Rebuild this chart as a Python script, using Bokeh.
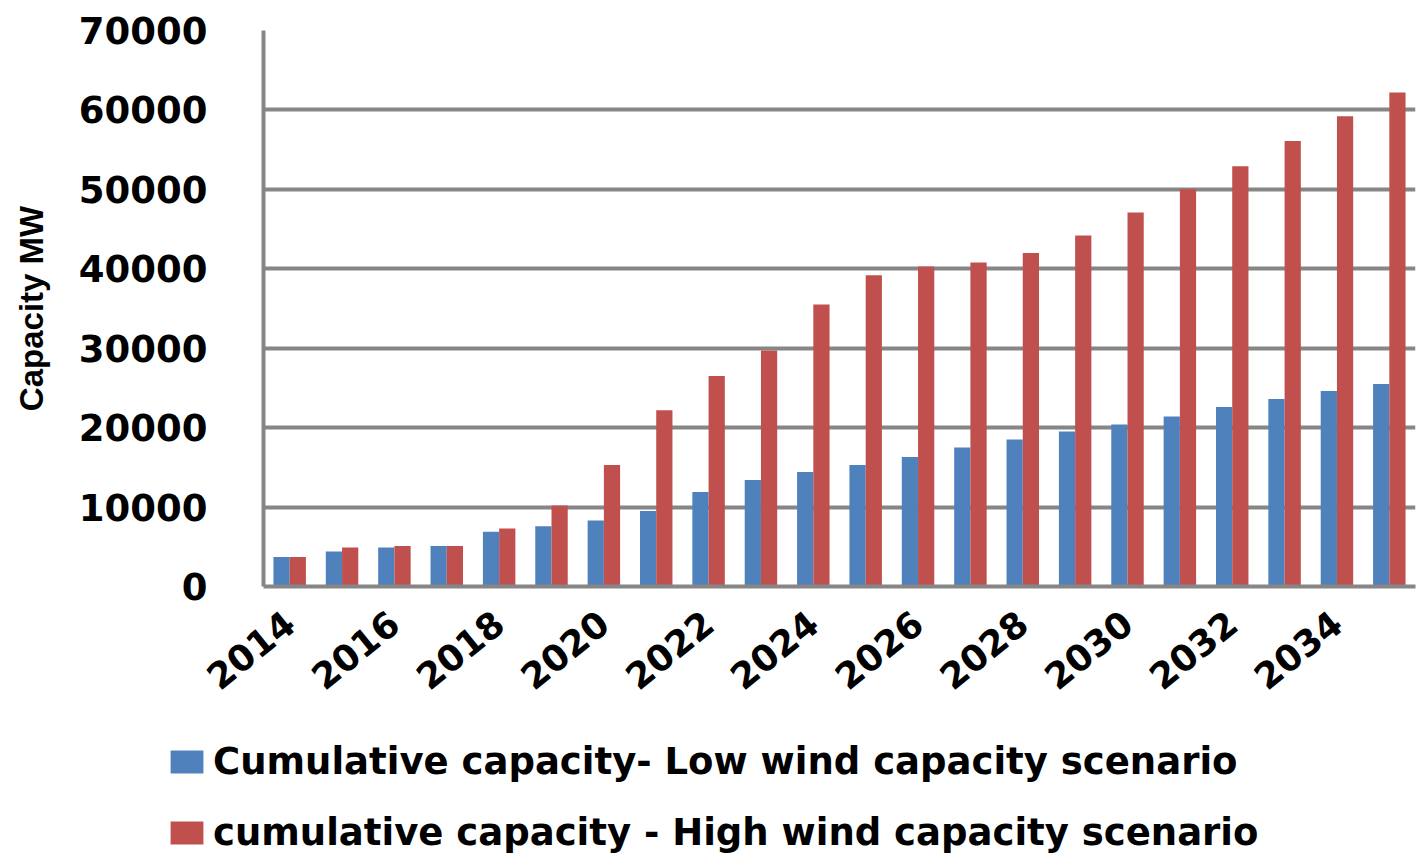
from bokeh.plotting import figure
from bokeh.layouts import column
from bokeh.models import (ColumnDataSource, Range1d, FixedTicker, NumeralTickFormatter,
                          Legend, LegendItem)
from bokeh.transform import dodge
from bokeh.embed import file_html
from bokeh.resources import INLINE

# Cumulative installed wind capacity (MW) per year under two scenarios
years = list(range(2014, 2036))
low_scenario = [3700, 4400, 4900, 5100, 6900, 7600, 8300, 9500, 11900, 13400, 14400,
                15300, 16300, 17500, 18500, 19500, 20400, 21400, 22600, 23600, 24600, 25500]
high_scenario = [3700, 4900, 5100, 5100, 7300, 10200, 15300, 22200, 26500, 29700, 35500,
                 39200, 40300, 40800, 42000, 44200, 47100, 50000, 52900, 56100, 59200, 62200]
year_ticks = list(range(2014, 2036, 2))
value_ticks = list(range(0, 70001, 10000))

low_label = "Cumulative capacity- Low wind capacity scenario"
high_label = "cumulative capacity - High wind capacity scenario"

BLUE = "#4F81BD"
RED = "#C0504D"
GRID = "#868686"
FONT = "DejaVu Sans"

BOTTOM = 128
CHART_H = 586 + BOTTOM
KEY_H = 859 - CHART_H

src = ColumnDataSource(data=dict(year=years, low=low_scenario, high=high_scenario))

p = figure(width=1416, height=CHART_H, output_backend="svg", toolbar_location=None,
           x_range=Range1d(2013.5, 2035.5), y_range=Range1d(0, 70000),
           min_border_left=263, min_border_right=1, min_border_top=30,
           min_border_bottom=BOTTOM)
p.frame_align = False

bar_w = 0.31
p.vbar(x=dodge("year", -bar_w / 2, range=p.x_range), top="low", width=bar_w,
       source=src, fill_color=BLUE, line_color=None)
p.vbar(x=dodge("year", bar_w / 2, range=p.x_range), top="high", width=bar_w,
       source=src, fill_color=RED, line_color=None)

p.outline_line_color = None
p.background_fill_color = "white"
p.border_fill_color = "white"

# grid
p.xgrid.grid_line_color = None
p.ygrid.grid_line_color = GRID
p.ygrid.grid_line_width = 4
p.ygrid.ticker = FixedTicker(ticks=value_ticks)

# y axis
yax = p.yaxis[0]
yax.ticker = FixedTicker(ticks=value_ticks)
yax.formatter = NumeralTickFormatter(format="0")
yax.axis_line_color = GRID
yax.axis_line_width = 4
yax.major_tick_line_color = None
yax.minor_tick_line_color = None
yax.major_label_standoff = 50
yax.major_label_text_font = FONT
yax.major_label_text_font_style = "bold"
yax.major_label_text_font_size = "37px"
yax.major_label_text_color = "black"
yax.axis_label = "Capacity MW"
yax.axis_label_text_font = "Liberation Sans"
yax.axis_label_text_font_style = "bold"
yax.axis_label_text_font_size = "33px"
yax.axis_label_text_color = "black"
yax.axis_label_standoff = 26

# x axis
xax = p.xaxis[0]
xax.ticker = FixedTicker(ticks=year_ticks)
xax.formatter = NumeralTickFormatter(format="0")
xax.axis_line_color = GRID
xax.axis_line_width = 4
xax.major_tick_line_color = None
xax.minor_tick_line_color = None
xax.major_label_orientation = 0.68
xax.major_label_standoff = 26
xax.major_label_text_font = FONT
xax.major_label_text_font_style = "bold"
xax.major_label_text_font_size = "36px"
xax.major_label_text_color = "black"

# key panel underneath the chart; its zero-height bars only supply the swatches
key = figure(width=1416, height=KEY_H, output_backend="svg", toolbar_location=None,
             x_range=p.x_range, y_range=Range1d(0, 1),
             x_axis_type=None, y_axis_type=None,
             min_border_left=0, min_border_right=0, min_border_top=0, min_border_bottom=0)
key.frame_align = False
key.outline_line_color = None
key.xgrid.grid_line_color = None
key.ygrid.grid_line_color = None
key.background_fill_color = "white"
key.border_fill_color = "white"

k_low = key.vbar(x="year", top=0, bottom=0, width=bar_w, source=src,
                 fill_color=BLUE, line_color=None)
k_high = key.vbar(x="year", top=0, bottom=0, width=bar_w, source=src,
                  fill_color=RED, line_color=None)

# area swatches are drawn inset by 10% on each side of the glyph box
legend = Legend(items=[LegendItem(label=low_label, renderers=[k_low]),
                       LegendItem(label=high_label, renderers=[k_high])],
                location=(166, 5), orientation="vertical")
legend.border_line_color = None
legend.background_fill_alpha = 0
legend.padding = 0
legend.margin = 0
legend.glyph_width = 41
legend.glyph_height = 29
legend.label_standoff = 6
legend.label_height = 43
legend.spacing = 28
legend.label_text_font = FONT
legend.label_text_font_style = "bold"
legend.label_text_font_size = "37px"
legend.label_text_color = "black"
key.add_layout(legend)

layout = column(p, key, spacing=0)
open("out.html", "w").write(file_html(layout, INLINE))
